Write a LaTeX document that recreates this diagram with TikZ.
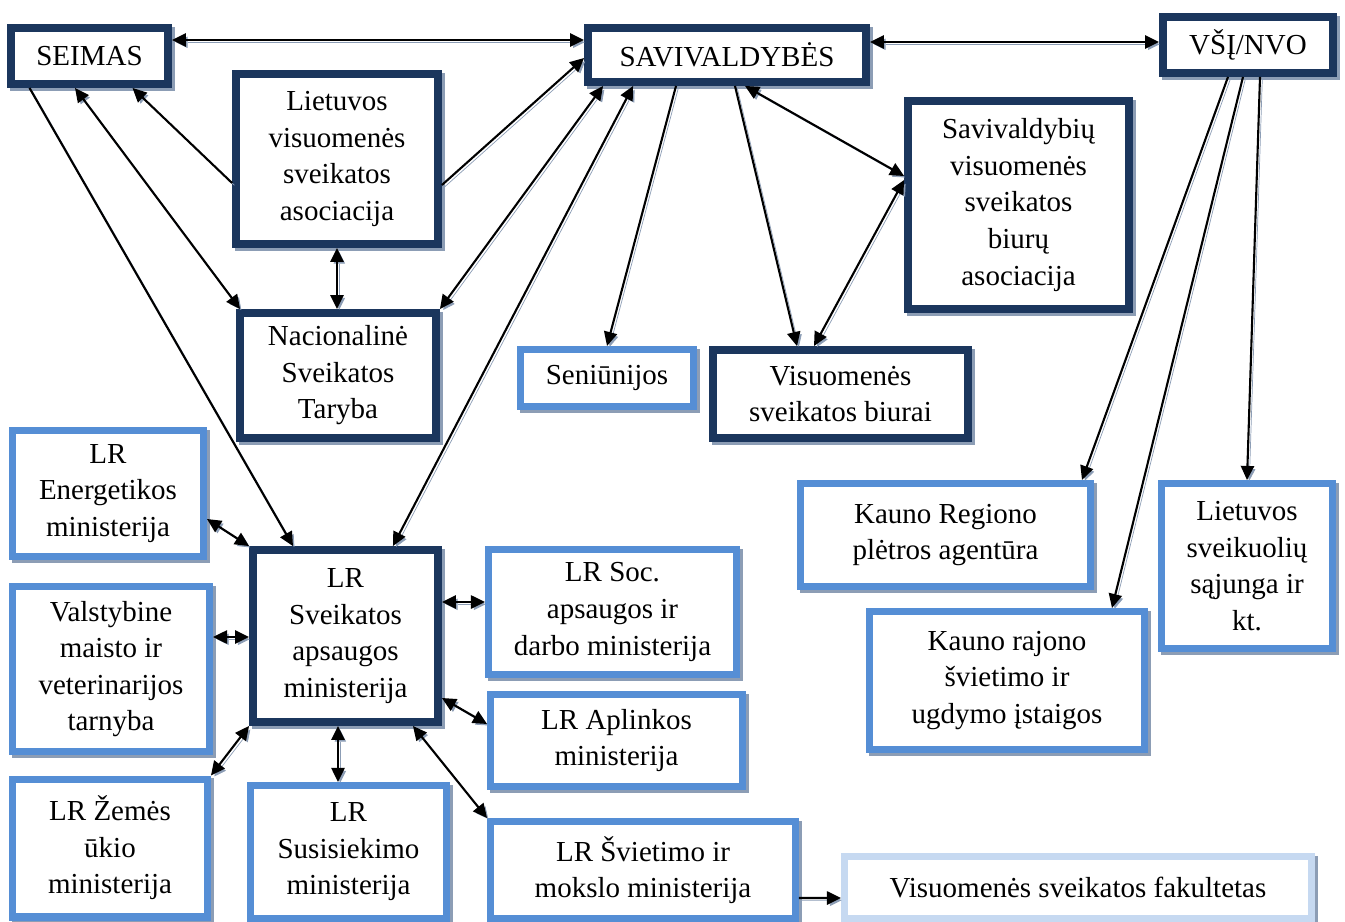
\documentclass[tikz,border=0pt]{standalone}
\usepackage{fontspec}
\setmainfont{Liberation Serif}
\usetikzlibrary{arrows.meta,calc,shadows}
\definecolor{navy}{HTML}{1B365D}
\definecolor{midblue}{HTML}{558ED5}
\definecolor{paleblue}{HTML}{C6D9F1}
\definecolor{shadowgray}{HTML}{8C9DB5}

\tikzset{
  box/.style={fill=white, align=center, inner sep=0pt,
    font=\fontsize{16.5}{20.8}\selectfont,
    drop shadow={shadow xshift=1.7pt, shadow yshift=-1.7pt, fill=shadowgray, draw=shadowgray, opacity=1}},
  navybox/.style={box, draw=navy, line width=4.5pt},
  bluebox/.style={box, draw=midblue, line width=4pt},
  palebox/.style={box, draw=paleblue, line width=4pt},
  link/.style={line width=1.2pt, -{Triangle[length=8pt,width=7.5pt]},
    preaction={draw=shadowgray, transform canvas={shift={(1.3pt,-1.3pt)}}}},
  dlink/.style={link, {Triangle[length=8pt,width=7.5pt]}-{Triangle[length=8pt,width=7.5pt]}},
}

\begin{document}
\begin{tikzpicture}[x=0.02cm, y=-0.02cm]
\useasboundingbox (0,0) rectangle (1345,922);

% upper level
\node[navybox, minimum width=3.14cm, minimum height=1.12cm] (seimas) at (89.5,56) {SEIMAS};
\node[navybox, minimum width=5.56cm, minimum height=1.08cm] (sav) at (727,55) {SAVIVALDYBĖS};
\node[navybox, minimum width=3.40cm, minimum height=1.12cm] (vsi) at (1248,45) {VŠĮ/NVO};
\node[navybox, minimum width=4.04cm, minimum height=3.40cm] (lvsa) at (337,159) {Lietuvos\\visuomenės\\sveikatos\\asociacija};
\node[navybox, minimum width=4.42cm, minimum height=4.16cm] (svba) at (1018.5,205) {Savivaldybių\\visuomenės\\sveikatos\\biurų\\asociacija};
\node[navybox, minimum width=3.92cm, minimum height=2.50cm] (nst) at (338,375.5) {Nacionalinė\\Sveikatos\\Taryba};
\node[navybox, minimum width=5.10cm, minimum height=1.76cm] (vsb) at (840.5,394) {Visuomenės\\sveikatos biurai};
\node[bluebox, minimum width=3.46cm, minimum height=1.14cm] (sen) at (607,378) {Seniūnijos};

% ministries
\node[navybox, minimum width=3.70cm, minimum height=3.44cm] (sam) at (345.5,636) {LR\\Sveikatos\\apsaugos\\ministerija};
\node[bluebox, minimum width=3.82cm, minimum height=2.52cm] (energ) at (108,493.5) {LR\\Energetikos\\ministerija};
\node[bluebox, minimum width=3.94cm, minimum height=3.30cm] (vmvt) at (111,669) {Valstybine\\maisto ir\\veterinarijos\\tarnyba};
\node[bluebox, minimum width=3.90cm, minimum height=2.76cm] (zemes) at (110,848) {LR Žemės\\ūkio\\ministerija};
\node[bluebox, minimum width=3.92cm, minimum height=2.66cm] (susis) at (348.5,852) {LR\\Susisiekimo\\ministerija};
\node[bluebox, minimum width=4.96cm, minimum height=2.50cm] (soc) at (612.5,612) {LR Soc.\\apsaugos ir\\darbo ministerija};
\node[bluebox, minimum width=5.04cm, minimum height=1.84cm] (aplink) at (616.5,740.5) {LR Aplinkos\\ministerija};
\node[bluebox, minimum width=6.10cm, minimum height=1.94cm] (sviet) at (643,870) {LR Švietimo ir\\mokslo ministerija};
\node[palebox, minimum width=9.34cm, minimum height=1.24cm] (fak) at (1078,887.5) {Visuomenės sveikatos fakultetas};

% right side
\node[bluebox, minimum width=5.80cm, minimum height=2.06cm] (kreg) at (945.5,535) {Kauno Regiono\\plėtros agentūra};
\node[bluebox, minimum width=5.50cm, minimum height=2.76cm] (kraj) at (1007,680.5) {Kauno rajono\\švietimo ir\\ugdymo įstaigos};
\node[bluebox, minimum width=3.42cm, minimum height=3.30cm] (sveik) at (1247,566) {Lietuvos\\sveikuolių\\sąjunga ir\\kt.};

% connectors
\draw[dlink] ($(seimas.east)+(0,-16)$) -- ($(sav.west)+(0,-15)$);
\draw[dlink] ($(sav.east)+(0,-13)$) -- ($(vsi.west)+(0,-3)$);
\draw[link] ($(lvsa.west)+(0,24)$) -- ($(seimas.south)+(43,0)$);
\draw[dlink] ($(seimas.south)+(-14.5,0)$) -- ($(nst.north west)+(4,0)$);
\draw[link] ($(seimas.south)+(-60,0)$) -- ($(sam.north)+(-52.5,0)$);
\draw[dlink] (lvsa.south) -- (lvsa.south |- nst.north);
\draw[link] ($(lvsa.east)+(0,26)$) -- ($(sav.west)+(0,3)$);
\draw[dlink] ($(sav.south west)+(19,0)$) -- (nst.north east);
\draw[dlink] ($(sav.south west)+(49,0)$) -- ($(sam.north east)+(-49,0)$);
\draw[link] ($(sav.south)+(-51,0)$) -- (sen.north);
\draw[link] ($(sav.south)+(8,0)$) -- ($(vsb.north)+(-43.5,0)$);
\draw[dlink] ($(sav.south)+(18,0)$) -- ($(svba.west)+(0,-29)$);
\draw[dlink] ($(svba.west)+(0,-25)$) -- ($(vsb.north)+(-26.5,0)$);
\draw[link] ($(vsi.south)+(-20,0)$) -- ($(kreg.north east)+(-12,0)$);
\draw[link] ($(vsi.south)+(-5,0)$) -- ($(kraj.north east)+(-36,0)$);
\draw[link] ($(vsi.south)+(12,0)$) -- (sveik.north);
\draw[dlink] ($(energ.east)+(0,25.5)$) -- (sam.north west);
\draw[dlink] ($(vmvt.east)+(0,-32)$) -- ($(sam.west)+(0,1)$);
\draw[dlink] (zemes.north east) -- (sam.south west);
\draw[dlink] ($(sam.south)+(-7.5,0)$) -- ($(susis.north)+(-10.5,0)$);
\draw[dlink] ($(sam.east)+(0,-34)$) -- ($(soc.west)+(0,-10)$);
\draw[dlink] ($(sam.east)+(0,62)$) -- ($(aplink.west)+(0,-16.5)$);
\draw[dlink] ($(sam.south east)+(-29,0)$) -- (sviet.north west);
\draw[link] ($(sviet.east)+(0,28)$) -- ($(fak.west)+(0,10.5)$);
\end{tikzpicture}
\end{document}
